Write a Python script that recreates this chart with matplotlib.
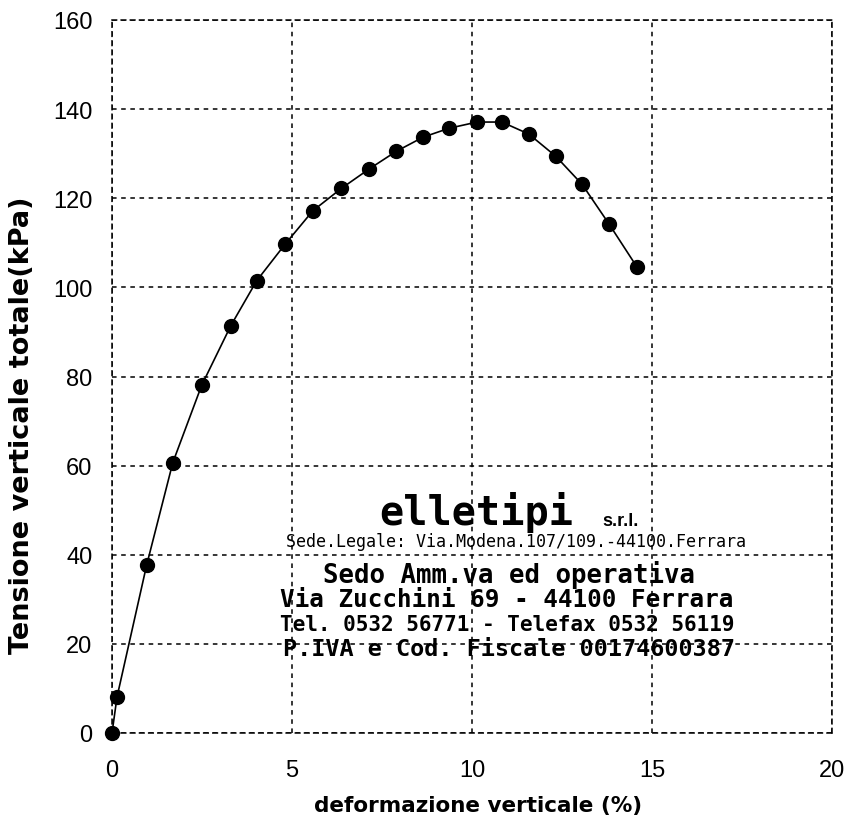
import matplotlib.pyplot as plt

# strain (%) vs total vertical stress (kPa)
deformazione = [0.0, 0.14, 0.96, 1.69, 2.49, 3.30, 4.02, 4.81, 5.58, 6.37, 7.13,
                7.89, 8.64, 9.36, 10.14, 10.83, 11.58, 12.33, 13.06, 13.80, 14.58]
tensione = [0.0, 8.1, 37.6, 60.7, 78.0, 91.4, 101.5, 109.7, 117.2, 122.2, 126.5,
            130.5, 133.7, 135.7, 137.1, 137.1, 134.4, 129.4, 123.1, 114.3, 104.6]

x_ticks = [0, 5, 10, 15, 20]
y_ticks = [0, 20, 40, 60, 80, 100, 120, 140, 160]

stamp_lines = [
    "Sede.Legale: Via.Modena.107/109.-44100.Ferrara",
    "Sedo Amm.va ed operativa",
    "Via Zucchini 69 - 44100 Ferrara",
    "Tel. 0532 56771 - Telefax 0532 56119",
    "P.IVA e Cod. Fiscale 00174600387",
]

plt.rcParams['font.family'] = ['Liberation Sans', 'DejaVu Sans']

fig = plt.figure(figsize=(8.44, 8.28), dpi=100)
ax = fig.add_axes([112/844, 1 - 734/828, 720/844, 713/828])

ax.plot(deformazione, tensione, '-', color='black', lw=1.2, zorder=3)
ax.plot(deformazione, tensione, 'o', color='black', ms=10, zorder=4, clip_on=False)

ax.set_xlim(0, 20)
ax.set_ylim(0, 160)
ax.set_xticks(x_ticks)
ax.set_yticks(y_ticks)
ax.tick_params(length=0, labelsize=17)
ax.tick_params(axis='x', pad=19)
ax.tick_params(axis='y', pad=14)
ax.grid(True, color='black', linestyle=(0, (3, 3)), linewidth=1.1)
for side in ['top', 'right', 'left', 'bottom']:
    ax.spines[side].set_linestyle((0, (3, 3)))
    ax.spines[side].set_linewidth(1.1)

ax.set_xlabel('deformazione verticale (%)', fontsize=15.5, fontweight='bold',
              family='DejaVu Sans')
ax.xaxis.set_label_coords((478 - 112) / 720, (734 - 796) / 713)
fig.text(22/844, 1 - 425/828, 'Tensione verticale totale(kPa)', fontsize=19.5,
         fontweight='bold', family='DejaVu Sans', rotation=90,
         ha='center', va='center')

# company stamp over the plot
fig.text(476/844, 1 - 525/828, 'elletipi', fontsize=29, fontweight='bold',
         family='DejaVu Sans Mono', ha='center', va='baseline')
fig.text(621/844, 1 - 522/828, 's.r.l.', fontsize=13, fontweight='bold',
         ha='center', va='center')
ys = [542, 575, 600, 625, 650]
sizes = [12, 18.5, 17.5, 15.1, 16.9]
xs = [516, 509, 507, 507, 509]
for line, x, y, s in zip(stamp_lines, xs, ys, sizes):
    fig.text(x/844, 1 - y/828, line, fontsize=s, family='DejaVu Sans Mono',
             fontweight='bold' if line != stamp_lines[0] else 'normal',
             ha='center', va='center')

fig.savefig('out.png', dpi=100)
